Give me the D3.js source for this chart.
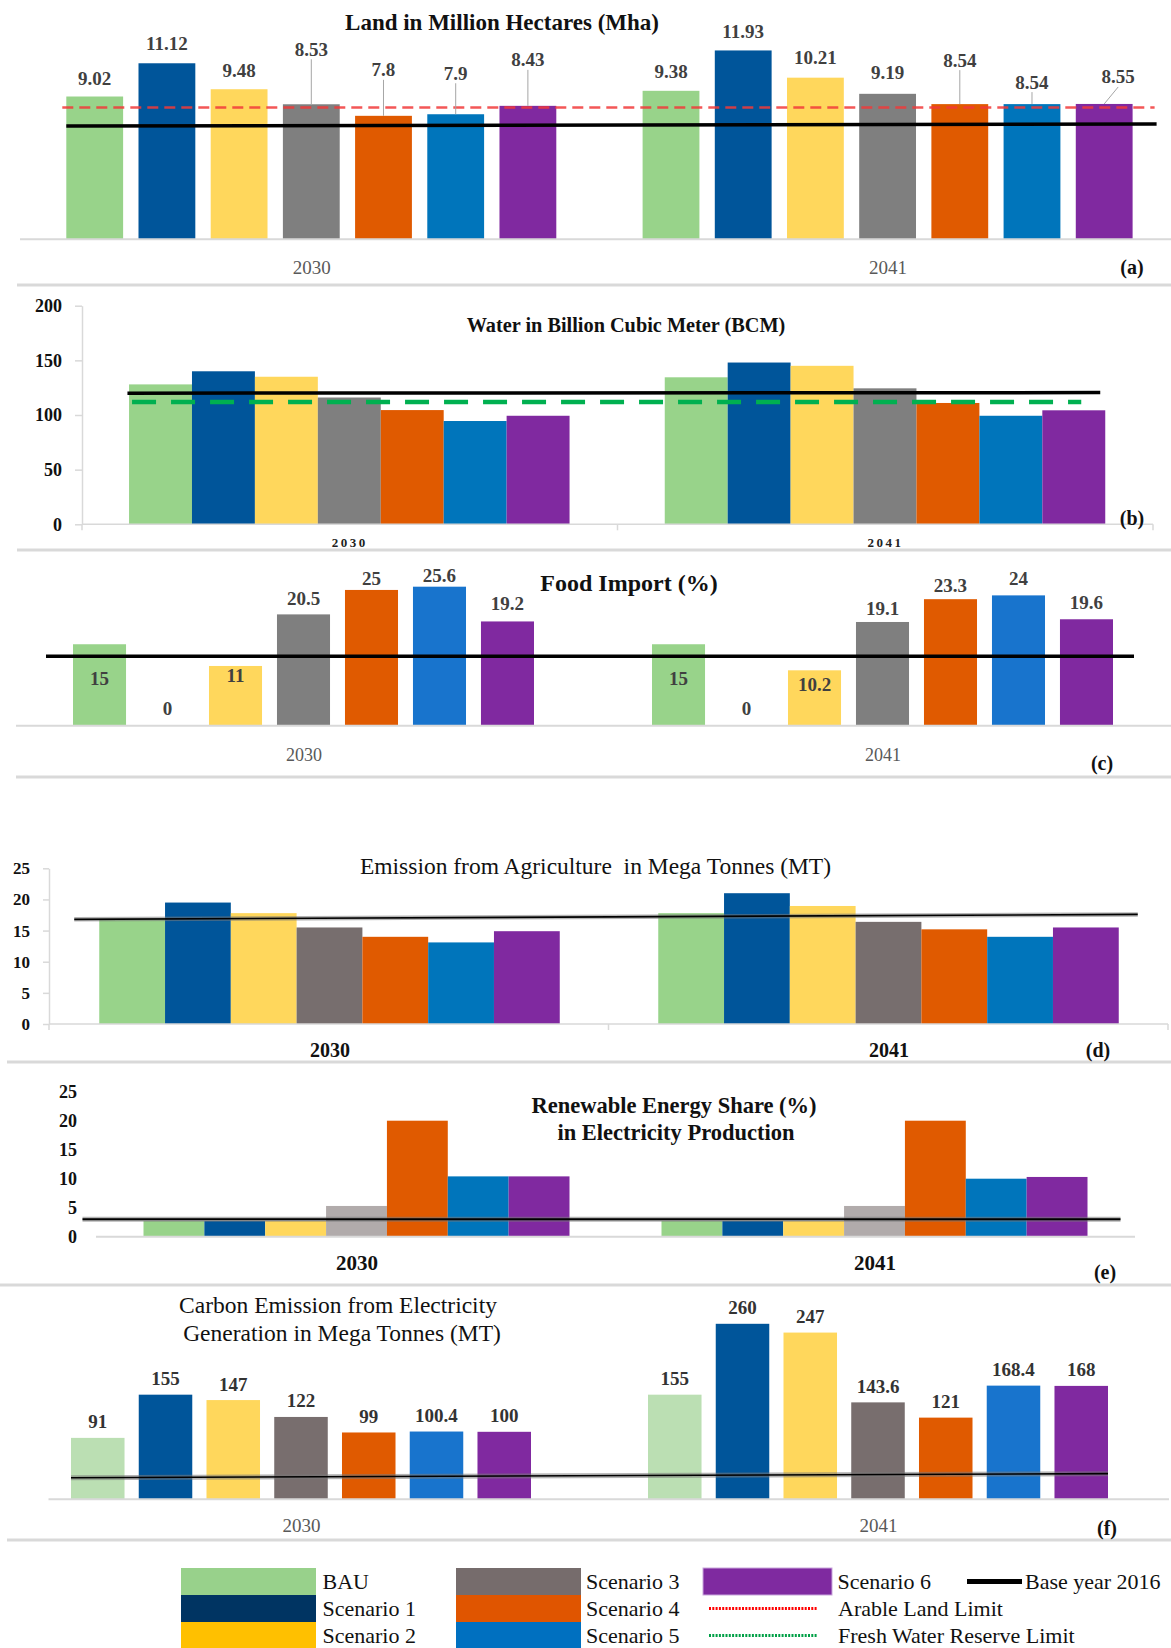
<!DOCTYPE html>
<html>
<head>
<meta charset="utf-8">
<script src="https://cdn.jsdelivr.net/npm/d3@7/dist/d3.min.js"></script>
<style>
  html, body { margin: 0; padding: 0; background: #fff; }
  svg { display: block; }
</style>
</head>
<body>
<svg id="chart" width="1171" height="1648"></svg>
<script>
// ---------------- DATA ----------------
const series = ["BAU", "Scenario 1", "Scenario 2", "Scenario 3", "Scenario 4", "Scenario 5", "Scenario 6"];
const years = ["2030", "2041"];

// (a) Land in Million Hectares
const landValues = [[9.02, 11.12, 9.48, 8.53, 7.8, 7.9, 8.43], [9.38, 11.93, 10.21, 9.19, 8.54, 8.54, 8.55]];
const landBase = [7.16, 7.28];
const arableLandLimit = 8.33;

// (b) Water in BCM
const waterValues = [[128, 140, 135, 116, 104.5, 94.5, 99.3], [134.5, 148, 145, 124.4, 111, 99.3, 104.3]];
const waterBase = [120, 120.5];
const freshWaterLimit = 112;
const waterTicks = [0, 50, 100, 150, 200];

// (c) Food import %
const foodValues = [[15, 0, 11, 20.5, 25, 25.6, 19.2], [15, 0, 10.2, 19.1, 23.3, 24, 19.6]];
const foodBase = [12.8, 12.8];

// (d) Emission from agriculture MT
const agriValues = [[16.9, 19.5, 17.8, 15.5, 14.0, 13.1, 14.9], [17.8, 21.0, 18.95, 16.4, 15.2, 14.0, 15.5]];
const agriBase = [16.8, 17.6];
const agriTicks = [0, 5, 10, 15, 20, 25];

// (e) Renewable energy share %
const reValues = [[2.7, 2.7, 2.7, 5.3, 20, 10.4, 10.4], [2.7, 2.7, 2.7, 5.3, 20, 10.0, 10.3]];
const reBase = [3.0, 3.0];
const reTicks = [0, 5, 10, 15, 20, 25];

// (f) Carbon emission from electricity MT
const carbonValues = [[91, 155, 147, 122, 99, 100.4, 100], [155, 260, 247, 143.6, 121, 168.4, 168]];
const carbonBase = [32, 38];

// ---------------- STYLE / LAYOUT ----------------
const SERIF = "'Liberation Serif','Times New Roman',serif";
const colorsMain = ["#98D38A", "#00559A", "#FFD75C", "#7F7F7F", "#E05A00", "#0075BB", "#8029A0"];
const colorsC = ["#98D38A", "#00559A", "#FFD75C", "#7F7F7F", "#E05A00", "#1874CD", "#8029A0"];
const colorsD = ["#98D38A", "#00559A", "#FFD75C", "#776E6E", "#E05A00", "#0075BB", "#8029A0"];
const colorsE = ["#98D38A", "#00559A", "#FFD75C", "#B1ABAB", "#E05A00", "#0075BB", "#8029A0"];
const colorsF = ["#BBDFB3", "#00559A", "#FFD75C", "#786E6E", "#E05A00", "#1874CD", "#8029A0"];
const legendColors = ["#98D18B", "#003462", "#FFC000", "#766C6C", "#E05500", "#0070C0", "#7F2AA0"];

// label lifts (px above bar top) for the labelled panels
const liftA = [[18.5, 20, 19, 55, 46, 41, 46], [19, 19, 20, 21, 44, 22, 27]];
const shiftA = [[0, 0, 0, 0, 0, 0, 0], [0, 0, 0, 0, 0, 0, 14]];
const liftC = [[-34, 17, -10, 16, 11, 11, 18], [-34, 17, -14, 13, 14, 17, 17]];
const liftF = 16;

const svg = d3.select("#chart");

function hline(y, x1, x2, color, w) {
  svg.append("line").attr("x1", x1).attr("x2", x2).attr("y1", y).attr("y2", y)
    .attr("stroke", color).attr("stroke-width", w);
}

function panel(cfg) {
  const g = svg.append("g");
  const xg = d3.scalePoint().domain(years).range(cfg.centers);
  const xs = d3.scaleBand().domain(series).range([-cfg.groupW / 2, cfg.groupW / 2]).paddingInner(cfg.pad);
  const y = d3.scaleLinear().domain(cfg.domain).range(cfg.yRange);
  const flat = [];
  years.forEach((yr, gi) => cfg.values[gi].forEach((v, si) => flat.push({ yr, gi, si, v })));

  if (cfg.axisLine) hline(y(0), cfg.axisLine[0], cfg.axisLine[1], "#D9D9D9", cfg.axisW || 2);

  g.selectAll("rect.bar").data(flat.filter(d => d.v > 0)).join("rect")
    .attr("class", "bar")
    .attr("x", d => xg(d.yr) + xs(series[d.si]))
    .attr("y", d => y(d.v))
    .attr("width", xs.bandwidth())
    .attr("height", d => y(0) - y(d.v))
    .attr("fill", d => cfg.colors[d.si]);

  const xStart = xg(years[0]) - cfg.groupW / 2;
  const xEnd = xg(years[1]) + cfg.groupW / 2;

  if (cfg.limit !== undefined) {
    g.append("line")
      .attr("x1", xStart + cfg.limitExt[0]).attr("x2", xEnd + cfg.limitExt[1])
      .attr("y1", y(cfg.limit)).attr("y2", y(cfg.limit))
      .attr("stroke", cfg.limitColor).attr("stroke-width", cfg.limitW)
      .attr("stroke-dasharray", cfg.limitDash).attr("opacity", cfg.limitOpacity || 1);
  }
  const bx1 = xStart + cfg.baseExt[0], bx2 = xEnd + cfg.baseExt[1];
  if (cfg.baseHalo) {
    g.append("line").attr("x1", bx1).attr("x2", bx2)
      .attr("y1", y(cfg.base[0])).attr("y2", y(cfg.base[1]))
      .attr("stroke", "#7a7a7a").attr("stroke-width", cfg.baseHalo).attr("opacity", 0.55);
  }
  g.append("line").attr("x1", bx1).attr("x2", bx2)
    .attr("y1", y(cfg.base[0])).attr("y2", y(cfg.base[1]))
    .attr("stroke", "#000").attr("stroke-width", cfg.baseW);

  if (cfg.lift) {
    const lab = g.selectAll("g.lab").data(flat).join("g").attr("class", "lab");
    const cx = d => xg(d.yr) + xs(series[d.si]) + xs.bandwidth() / 2;
    const liftOf = d => (typeof cfg.lift === "number") ? cfg.lift : cfg.lift[d.gi][d.si];
    const shiftOf = d => cfg.shift ? cfg.shift[d.gi][d.si] : 0;
    if (cfg.leaders) {
      lab.filter(d => liftOf(d) >= 22).append("line")
        .attr("x1", d => cx(d) + shiftOf(d)).attr("y1", d => y(d.v) - liftOf(d) + 10)
        .attr("x2", cx).attr("y2", d => y(d.v))
        .attr("stroke", "#A6A6A6").attr("stroke-width", 1);
    }
    lab.append("text")
      .attr("x", d => cx(d) + shiftOf(d))
      .attr("y", d => y(d.v) - liftOf(d))
      .attr("text-anchor", "middle").attr("dominant-baseline", "central")
      .attr("font-family", SERIF).attr("font-size", cfg.labelSize || 19)
      .attr("font-weight", "bold").attr("fill", cfg.labelColor || "#404040")
      .text(d => d.v);
  }

  const ax = svg.append("g").attr("transform", `translate(0,${cfg.yearY})`)
    .call(d3.axisBottom(xg).tickSize(0).tickPadding(0));
  ax.select(".domain").remove();
  ax.selectAll("text").attr("y", 0).attr("dy", "0.35em")
    .attr("font-family", SERIF).attr("font-size", cfg.yearSize)
    .attr("font-weight", cfg.yearWeight || "normal")
    .attr("fill", cfg.yearColor || "#595959")
    .attr("letter-spacing", cfg.yearSpacing || 0);

  if (cfg.ticks) {
    const ya = svg.append("g").attr("transform", `translate(${cfg.yAxisX},0)`)
      .call(d3.axisLeft(y).tickValues(cfg.ticks).tickSize(cfg.tickSize).tickPadding(cfg.tickPad).tickSizeOuter(0));
    if (cfg.yDomain) ya.select(".domain").attr("stroke", "#D9D9D9").attr("stroke-width", 1.5);
    else ya.select(".domain").remove();
    ya.selectAll(".tick line").attr("stroke", "#D9D9D9").attr("stroke-width", 1.5);
    ya.selectAll("text").attr("font-family", SERIF).attr("font-size", cfg.tickFont)
      .attr("font-weight", "bold").attr("fill", "#111");
  }
  if (cfg.bandTicks) {
    const xb = d3.scaleBand().domain(years).range(cfg.axisLine);
    const pos = years.map(d => xb(d)).concat([cfg.axisLine[1]]);
    svg.append("g").selectAll("line").data(pos).join("line")
      .attr("x1", d => d).attr("x2", d => d)
      .attr("y1", y(0)).attr("y2", y(0) + 6)
      .attr("stroke", "#D9D9D9").attr("stroke-width", 1.5);
  }

  (cfg.titles || []).forEach(t => {
    svg.append("text").attr("x", t.x).attr("y", t.y)
      .attr("text-anchor", "middle").attr("dominant-baseline", "central")
      .attr("font-family", SERIF).attr("font-size", t.size)
      .attr("font-weight", t.weight || "bold").attr("fill", "#111")
      .style("white-space", "pre").text(t.text);
  });
  svg.append("text").attr("x", cfg.tag.x).attr("y", cfg.tag.y)
    .attr("text-anchor", "middle").attr("dominant-baseline", "central")
    .attr("font-family", SERIF).attr("font-size", 20).attr("font-weight", "bold")
    .attr("fill", "#111").text(cfg.tag.text);
}

// separators
[[285, 17], [550, 17], [777, 16], [1062, 7], [1285, 0], [1540, 7]].forEach(s => hline(s[0], s[1], 1171, "#D9D9D9", 3));

// (a)
panel({
  values: landValues, colors: colorsMain, centers: [311.3, 887.6], groupW: 490, pad: 0.213,
  domain: [0, 15], yRange: [239.3, 239.3 - 15 * 15.83], axisLine: [20, 1171],
  base: landBase, baseExt: [0, 24], baseW: 3.5,
  limit: arableLandLimit, limitExt: [-4, 22], limitColor: "#F23A3A", limitW: 2.5, limitDash: "11,6", limitOpacity: 0.85,
  lift: liftA, shift: shiftA, leaders: true,
  yearY: 267, yearSize: 19, yearColor: "#595959",
  titles: [{ text: "Land in Million Hectares (Mha)", x: 502, y: 22, size: 23 }],
  tag: { text: "(a)", x: 1132, y: 267 }
});

// (b)
panel({
  values: waterValues, colors: colorsMain, centers: [349.3, 885], groupW: 440.5, pad: 0,
  domain: [0, 200], yRange: [524.3, 305.7], axisLine: [82, 1153], axisW: 1.5, bandTicks: true,
  base: waterBase, baseExt: [-1.6, -5], baseW: 3.5,
  limit: freshWaterLimit, limitExt: [3, -24], limitColor: "#00B050", limitW: 4.5, limitDash: "24,15",
  yearY: 542, yearSize: 13, yearWeight: "bold", yearColor: "#222", yearSpacing: 2.5,
  ticks: waterTicks, yAxisX: 82, tickSize: 7, tickPad: 13, tickFont: 18, yDomain: true,
  titles: [{ text: "Water in Billion Cubic Meter (BCM)", x: 626, y: 325, size: 20.3 }],
  tag: { text: "(b)", x: 1132, y: 518 }
});

// (c)
panel({
  values: foodValues, colors: colorsC, centers: [303.5, 882.5], groupW: 461, pad: 0.22,
  domain: [0, 30], yRange: [725.7, 725.7 - 30 * 5.43], axisLine: [16, 1171],
  base: foodBase, baseExt: [-27, 21], baseW: 3.5,
  lift: liftC,
  yearY: 755, yearSize: 18, yearColor: "#595959",
  titles: [{ text: "Food Import (%)", x: 629, y: 583, size: 24 }],
  tag: { text: "(c)", x: 1102, y: 763 }
});

// (d)
panel({
  values: agriValues, colors: colorsD, centers: [329.5, 888.5], groupW: 460.5, pad: 0,
  domain: [0, 25], yRange: [1024, 868.3], axisLine: [49, 1168], axisW: 1.5, bandTicks: true,
  base: agriBase, baseExt: [-25, 19], baseW: 1.6, baseHalo: 4.5,
  yearY: 1050, yearSize: 20, yearWeight: "bold", yearColor: "#111",
  ticks: agriTicks, yAxisX: 49, tickSize: 6, tickPad: 13, tickFont: 17, yDomain: true,
  titles: [{ text: "Emission from Agriculture  in Mega Tonnes (MT)", x: 595.5, y: 866, size: 23.5, weight: "normal" }],
  tag: { text: "(d)", x: 1098, y: 1050 }
});

// (e)
panel({
  values: reValues, colors: colorsE, centers: [356.5, 874.5], groupW: 426, pad: 0,
  domain: [0, 25], yRange: [1236.7, 1091.7], axisLine: [96, 1135],
  base: reBase, baseExt: [-61, 33], baseW: 2, baseHalo: 5,
  yearY: 1263, yearSize: 21, yearWeight: "bold", yearColor: "#111",
  ticks: reTicks, yAxisX: 96, tickSize: 0, tickPad: 19, tickFont: 18, yDomain: false,
  titles: [
    { text: "Renewable Energy Share (%)", x: 674, y: 1105, size: 22.5 },
    { text: "in Electricity Production", x: 676, y: 1132, size: 22.5 }
  ],
  tag: { text: "(e)", x: 1105, y: 1272 }
});

// (f)
panel({
  values: carbonValues, colors: colorsF, centers: [301, 878], groupW: 460, pad: 0.21,
  domain: [0, 300], yRange: [1499.3, 1499.3 - 300 * 0.675], axisLine: [48.5, 1169],
  base: carbonBase, baseExt: [0, 0], baseW: 1.6, baseHalo: 5,
  lift: liftF, labelColor: "#333",
  yearY: 1525, yearSize: 19, yearColor: "#595959",
  titles: [
    { text: "Carbon Emission from Electricity", x: 338, y: 1305, size: 23.5, weight: "normal" },
    { text: "Generation in Mega Tonnes (MT)", x: 342, y: 1333, size: 23.5, weight: "normal" }
  ],
  tag: { text: "(f)", x: 1107, y: 1528 }
});

// ---------------- LEGEND ----------------
const legendCols = [
  { sx: 181, sw: 135, tx: 322.5, items: [0, 1, 2] },
  { sx: 456, sw: 125, tx: 586, items: [3, 4, 5] },
  { sx: 703, sw: 129, tx: 837.5, items: [6] }
];
const rowTop = 1568, rowH = 27;
const leg = svg.append("g");
legendCols.forEach(col => {
  col.items.forEach((si, r) => {
    leg.append("rect").attr("x", col.sx).attr("y", rowTop + r * rowH)
      .attr("width", col.sw).attr("height", rowH).attr("fill", legendColors[si])
      .attr("stroke", si === 6 ? "#c9a6dc" : "none").attr("stroke-width", 1);
    leg.append("text").attr("x", col.tx).attr("y", rowTop + r * rowH + rowH / 2)
      .attr("dominant-baseline", "central")
      .attr("font-family", SERIF).attr("font-size", 22).attr("fill", "#111")
      .text(series[si]);
  });
});
const lineLegend = [
  { text: "Arable Land Limit", color: "#FF0000", row: 1 },
  { text: "Fresh Water Reserve Limit", color: "#00A046", row: 2 }
];
lineLegend.forEach(l => {
  const yy = rowTop + l.row * rowH + rowH / 2;
  leg.append("line").attr("x1", 709).attr("x2", 817).attr("y1", yy).attr("y2", yy)
    .attr("stroke", l.color).attr("stroke-width", 3).attr("stroke-dasharray", "2,1.3");
  leg.append("text").attr("x", 838).attr("y", yy).attr("dominant-baseline", "central")
    .attr("font-family", SERIF).attr("font-size", 22).attr("fill", "#111").text(l.text);
});
{
  const yy = rowTop + rowH / 2;
  leg.append("line").attr("x1", 967).attr("x2", 1022).attr("y1", yy).attr("y2", yy)
    .attr("stroke", "#000").attr("stroke-width", 5);
  leg.append("text").attr("x", 1025).attr("y", yy).attr("dominant-baseline", "central")
    .attr("font-family", SERIF).attr("font-size", 22).attr("fill", "#111").text("Base year 2016");
}
</script>
</body>
</html>
